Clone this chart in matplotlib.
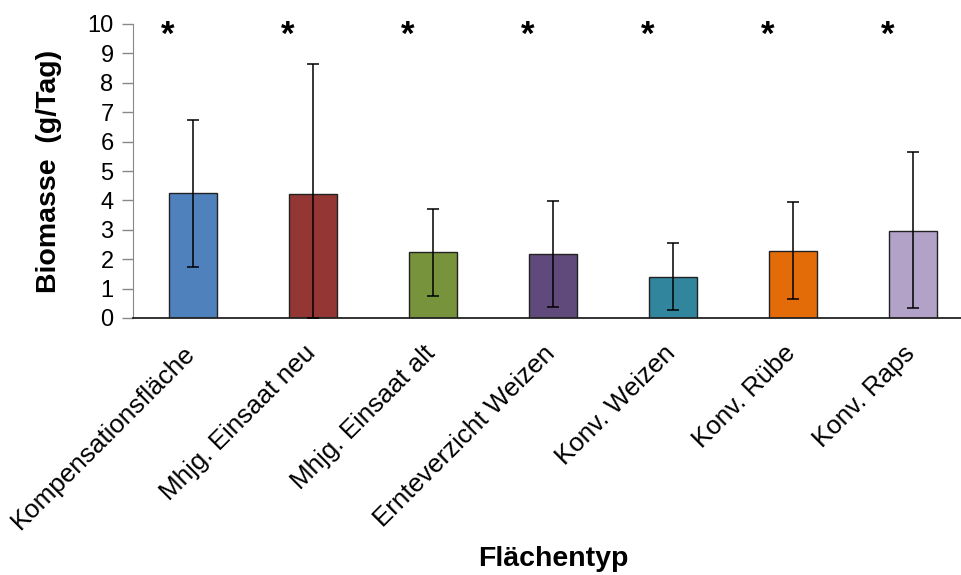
import numpy as np
import matplotlib.pyplot as plt
from matplotlib.transforms import ScaledTranslation

plt.rcParams['font.family'] = ['Liberation Sans', 'DejaVu Sans']

# biomass per area type, mean with lower/upper error
categories = ['Kompensationsfläche', 'Mhjg. Einsaat neu', 'Mhjg. Einsaat alt',
              'Ernteverzicht Weizen', 'Konv. Weizen', 'Konv. Rübe', 'Konv. Raps']
means = [4.24, 4.22, 2.23, 2.17, 1.39, 2.29, 2.96]
upper = [6.72, 8.65, 3.70, 3.97, 2.54, 3.95, 5.65]
lower = [1.73, 0.00, 0.76, 0.36, 0.26, 0.64, 0.33]
marks = ['*'] * 7
colours = ['#4F81BD', '#943634', '#77933C', '#604A7B', '#31859C', '#E36C09', '#B2A2C7']

fig = plt.figure(figsize=(9.61, 5.75), dpi=100)
ax = fig.add_axes([133 / 961, 1 - 318 / 575, 840 / 961, 294 / 575])

x = np.arange(len(categories))
means = np.array(means)
yerr = [means - np.array(lower), np.array(upper) - means]

ax.bar(x, means, width=0.4, color=colours, edgecolor='#222222', linewidth=1.0, zorder=2)
ax.errorbar(x, means, yerr=yerr, fmt='none', ecolor='black', elinewidth=1.1,
            capsize=4, capthick=1.1, zorder=3)

# significance stars, sitting a little left of each bar
for xi, m in zip(x, marks):
    ax.text(xi - 0.21, 9.6, m, ha='center', va='center', fontsize=25, fontweight='bold')

ax.set_xlim(-0.5, len(categories) - 0.5)
ax.set_ylim(0, 10)
ax.set_yticks(range(0, 11))
ax.tick_params(axis='y', labelsize=17, length=8, width=1, color='#888888', pad=6)
ax.tick_params(axis='x', length=0, pad=8)
ax.set_xticks(x)
ax.set_xticklabels(categories, rotation=45, ha='right', rotation_mode='anchor', fontsize=18.7)
shift = ScaledTranslation(-10 / 100, -12 / 100, fig.dpi_scale_trans)
for lab in ax.get_xticklabels():
    lab.set_transform(lab.get_transform() + shift)

for s in ['top', 'right']:
    ax.spines[s].set_visible(False)
ax.spines['left'].set_color('#888888')
ax.spines['bottom'].set_color('#222222')
ax.spines['bottom'].set_linewidth(1.3)

ax.set_ylabel('Biomasse  (g/Tag)', fontsize=20.5, fontweight='bold')
ax.yaxis.set_label_coords(-0.084, 0.5)
ax.text(0.5, -0.82, 'Flächentyp', transform=ax.transAxes, ha='center', va='center',
        fontsize=20.5, fontweight='bold')

fig.savefig('out.png', dpi=100)
